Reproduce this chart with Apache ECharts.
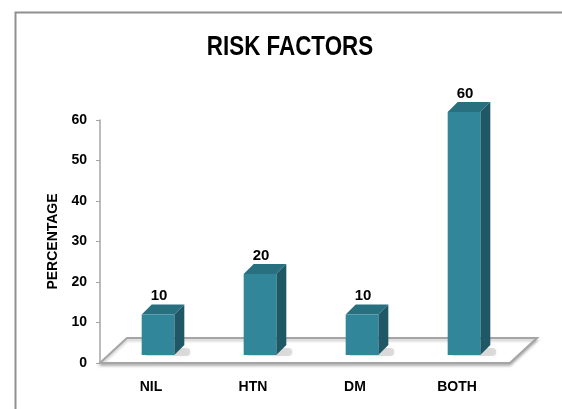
<!DOCTYPE html>
<html>
<head>
<meta charset="utf-8">
<script src="https://cdn.jsdelivr.net/npm/echarts@6/dist/echarts.min.js"></script>
<style>
  html, body { margin: 0; padding: 0; background: #fff; }
  #main { width: 562px; height: 409px; }
</style>
</head>
<body>
<div id="main"></div>
<script>
// data
const categories = ['NIL', 'HTN', 'DM', 'BOTH'];
const percentages = [10, 20, 10, 60];
const yTicks = { min: 0, max: 60, interval: 10 };
const chartTitle = 'RISK FACTORS';

const FRONT = '#31869a';
const SIDE = '#1f5765';
const TOP = '#286f80';
const DEPTH = 10;      // bar depth in px
const SHIFT_X = 7;     // bars sit a bit back on the floor
const SHIFT_Y = -8;
const FONT = '"Liberation Sans", Arial, sans-serif';

const myChart = echarts.init(document.getElementById('main'));

function renderFloor(params, api) {
  const cs = params.coordSys;
  const x0 = cs.x, x1 = cs.x + cs.width + 2;
  const yf = cs.y + cs.height;
  const dx = 27, dy = -25;
  return {
    type: 'polygon',
    shape: { points: [[x0, yf], [x1, yf], [x1 + dx, yf + dy], [x0 + dx, yf + dy]] },
    style: {
      fill: '#fff', stroke: '#a5a5a5', lineWidth: 2,
      shadowColor: 'rgba(0,0,0,0.25)', shadowBlur: 3, shadowOffsetY: 2
    }
  };
}

function renderBar(params, api) {
  const idx = api.value(0);
  const val = api.value(1);
  const base = api.coord([idx, 0]);
  const top = api.coord([idx, val]);
  const band = api.size([1, 0])[0];
  const w = band * 0.32;
  const cx = base[0] + SHIFT_X;
  const xl = cx - w / 2, xr = cx + w / 2;
  const yb = base[1] + SHIFT_Y, yt = top[1] + SHIFT_Y;
  return {
    type: 'group',
    children: [
      {
        type: 'rect',
        shape: { x: xl + 2, y: yb - 7, width: w + DEPTH + 4, height: 8, r: 4 },
        style: { fill: 'rgba(0,0,0,0.12)', shadowColor: 'rgba(0,0,0,0.35)', shadowBlur: 7 }
      },
      {
        type: 'polygon',
        shape: { points: [[xr, yb], [xr + DEPTH, yb - DEPTH], [xr + DEPTH, yt - DEPTH], [xr, yt]] },
        style: { fill: SIDE }
      },
      {
        type: 'polygon',
        shape: { points: [[xl, yt], [xr, yt], [xr + DEPTH, yt - DEPTH], [xl + DEPTH, yt - DEPTH]] },
        style: { fill: TOP }
      },
      {
        type: 'rect',
        shape: { x: xl, y: yt, width: w, height: yb - yt },
        style: { fill: FRONT }
      },
      {
        type: 'text',
        x: cx + 1, y: yt - DEPTH - 1,
        style: {
          text: String(val), align: 'center', verticalAlign: 'bottom',
          font: 'bold 15px ' + FONT, fill: '#000'
        }
      }
    ]
  };
}

const option = {
  animation: false,
  backgroundColor: '#fff',
  graphic: [
    {
      type: 'rect',
      left: 13, top: 10,
      shape: { width: 600, height: 450 },
      style: { fill: 'none', stroke: '#8f8f8f', lineWidth: 2 }
    },
    {
      type: 'text',
      x: 290, y: 47,
      scaleX: 0.8,
      style: {
        text: chartTitle, align: 'center', verticalAlign: 'middle',
        font: 'bold 28px ' + FONT, fill: '#000'
      }
    }
  ],
  grid: { left: 100, top: 120, width: 408, height: 243 },
  xAxis: {
    type: 'category',
    data: categories,
    axisLine: { show: false },
    axisTick: { show: false },
    axisLabel: {
      margin: 17, color: '#000', fontWeight: 'bold', fontSize: 14, fontFamily: FONT
    }
  },
  yAxis: {
    type: 'value',
    min: yTicks.min, max: yTicks.max, interval: yTicks.interval,
    name: 'PERCENTAGE',
    nameLocation: 'middle',
    nameRotate: 90,
    nameGap: 34,
    nameTextStyle: {
      color: '#000', fontWeight: 'bold', fontSize: 14, fontFamily: FONT
    },
    axisLine: { show: true, lineStyle: { color: '#a5a5a5', width: 1.5 } },
    axisTick: { show: true, length: 4, lineStyle: { color: '#a5a5a5' } },
    splitLine: { show: false },
    axisLabel: {
      margin: 13, color: '#000', fontWeight: 'bold', fontSize: 14, fontFamily: FONT
    }
  },
  series: [
    {
      type: 'custom',
      z: 1,
      silent: true,
      renderItem: renderFloor,
      data: [[0, 0]]
    },
    {
      type: 'custom',
      z: 2,
      renderItem: renderBar,
      data: categories.map((c, i) => [i, percentages[i]])
    }
  ]
};

myChart.setOption(option);
</script>
</body>
</html>
